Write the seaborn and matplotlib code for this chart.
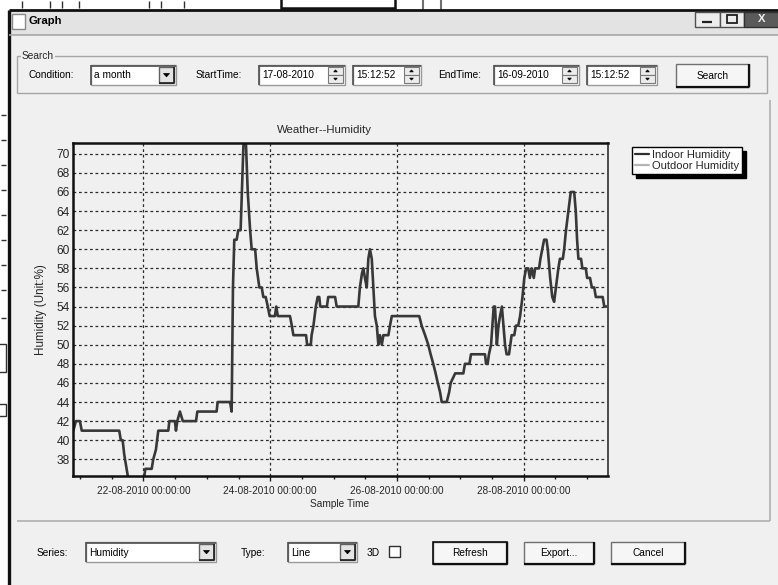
import numpy as np
import pandas as pd
import matplotlib
matplotlib.use("Agg")
import matplotlib.pyplot as plt
import matplotlib.dates as mdates
from matplotlib.patches import Rectangle, Polygon
from matplotlib.lines import Line2D
from matplotlib import font_manager
import seaborn as sns

# ---------------- data ----------------
start_time = "2010-08-20 00:00:00"
hours_from_start = [
    21.4, 22.4, 23.9, 24.6, 38.8, 39.4, 40.1, 40.7, 42.2, 48.2,
    48.7, 51.1, 51.7, 52.7, 53.6, 57.4, 57.8, 59.9, 60.3, 60.8,
    61.8, 62.9, 67.9, 68.4, 75.7, 76.1, 80.8, 81.4, 81.9, 82.4,
    83.3, 83.9, 84.8, 85.4, 86.0, 86.7, 87.5, 88.4, 89.0, 90.3,
    90.9, 91.9, 92.8, 93.4, 94.3, 95.1, 95.8, 97.8, 98.3, 98.9,
    103.5, 104.2, 104.8, 109.6, 110.0, 111.4, 111.7, 112.4, 113.3, 114.0,
    114.6, 115.0, 117.5, 118.0, 120.6, 121.2, 129.4, 130.0, 130.8, 131.3,
    131.9, 132.6, 133.2, 133.8, 134.5, 135.1, 135.7, 136.4, 137.0, 137.6,
    138.3, 138.9, 140.8, 141.4, 142.1, 152.5, 153.4, 154.7, 155.9, 156.8,
    157.8, 158.7, 159.5, 160.4, 161.0, 162.9, 163.8, 164.4, 166.1, 169.2,
    169.8, 171.5, 172.1, 177.4, 177.8, 178.4, 178.9, 179.7, 180.2, 180.7,
    181.2, 181.9, 182.5, 183.1, 183.8, 184.4, 185.0, 185.6, 186.5, 187.0,
    187.5, 188.5, 189.1, 190.0, 190.7, 191.6, 192.3, 193.0, 193.8, 194.4,
    195.1, 195.9, 196.4, 197.9, 198.4, 199.1, 199.8, 200.7, 201.2, 202.1,
    202.9, 203.6, 204.3, 205.2, 205.8, 206.9, 207.4, 208.1, 209.0, 209.9,
    211.2, 211.8, 212.3, 212.8, 213.8, 214.3, 215.6, 216.1, 217.2, 217.9,
    218.8, 219.4, 222.0, 222.6, 223.9,
]
indoor_humidity = [
    41, 42, 42, 41, 41, 40, 40, 38.5, 36, 36,
    37, 37, 38, 39, 41, 41, 42, 42, 41, 42,
    43, 42, 42, 43, 43, 44, 44, 43, 56, 61,
    61, 62, 62, 67, 72, 72, 66, 62, 60, 60,
    58, 56, 56, 55, 55, 54, 53, 53, 54, 53,
    53, 52, 51, 51, 50, 50, 51, 52, 54, 55,
    55, 54, 54, 55, 55, 54, 54, 56, 57.5, 58,
    57, 56, 59, 60, 59, 56, 53, 52, 50, 51,
    50, 51, 51, 52, 53, 53, 52, 51, 50, 49,
    48, 47, 46, 45, 44, 44, 45, 46, 47, 47,
    48, 48, 49, 49, 48, 48, 49, 50, 52, 54,
    54, 50, 52, 53, 54, 52, 50, 49, 49, 50,
    51, 51, 52, 52, 53, 55, 57, 58, 58, 57,
    58, 57, 58, 58, 59, 60, 61, 61, 60, 57,
    55, 54.5, 56, 58, 59, 59, 60, 62, 64, 66,
    66, 64, 61, 59, 59, 58, 58, 57, 57, 56,
    56, 55, 55, 54, 54,
]
series_names = ["Indoor Humidity", "Outdoor Humidity"]
y_ticks = list(range(38, 71, 2))
x_label_days = [22, 24, 26, 28]
chart_title = "Weather--Humidity"
x_title = "Sample Time"
y_title = "Humidity (Unit:%)"

df = pd.DataFrame({
    "time": pd.Timestamp(start_time) + pd.to_timedelta(hours_from_start, unit="h"),
    "humidity": indoor_humidity,
})

# ---------------- style ----------------
sns.set_style("white")
avail = {f.name for f in font_manager.fontManager.ttflist}
NARROW = "Liberation Sans Narrow" if "Liberation Sans Narrow" in avail else "Liberation Sans"
NSCALE = 1.0 if NARROW == "Liberation Sans Narrow" else 0.85
ARIAL = "Liberation Sans"
plt.rcParams["font.family"] = [ARIAL, "DejaVu Sans"]

W, H = 778, 585
BODY = "#f0f0f0"
fig = plt.figure(figsize=(W / 100, H / 100), dpi=100, facecolor=BODY)

# background "window chrome" axes in pixel coordinates
bg = fig.add_axes([0, 0, 1, 1], zorder=0)
bg.set_xlim(0, W)
bg.set_ylim(H, 0)
bg.axis("off")


def rect(x0, y0, x1, y1, fc="none", ec="none", lw=1.0, z=1):
    bg.add_patch(Rectangle((x0, y0), x1 - x0, y1 - y0, facecolor=fc,
                           edgecolor=ec, linewidth=lw, zorder=z))


def hline(x0, x1, y, c, lw=1.0, z=2):
    bg.plot([x0, x1], [y, y], color=c, lw=lw, zorder=z, solid_capstyle="butt")


def vline(x, y0, y1, c, lw=1.0, z=2):
    bg.plot([x, x], [y0, y1], color=c, lw=lw, zorder=z, solid_capstyle="butt")


def txt(x, y, s, size=8.6, ha="left", weight="normal", family=None, color="black", z=5):
    fam = family or NARROW
    sz = size * (NSCALE if fam == NARROW else 1.0)
    bg.text(x, y, s, fontsize=sz, ha=ha, va="center", family=fam,
            fontweight=weight, color=color, zorder=z)


def tri(cx, cy, up=False, s=3.0, c="black"):
    if up:
        pts = [(cx - s, cy + s * 0.5), (cx + s, cy + s * 0.5), (cx, cy - s * 0.6)]
    else:
        pts = [(cx - s, cy - s * 0.5), (cx + s, cy - s * 0.5), (cx, cy + s * 0.6)]
    bg.add_patch(Polygon(pts, closed=True, facecolor=c, edgecolor=c, lw=0.5, zorder=6))


def sunken(x0, y0, x1, y1):
    rect(x0, y0, x1, y1, fc="white", ec="#9a9a9a", lw=1.0, z=2)
    hline(x0, x1, y0 + 0.5, "#505050", 1.2, z=3)
    vline(x0 + 0.5, y0, y1, "#505050", 1.2, z=3)


def combo(x0, y0, x1, y1, label):
    sunken(x0, y0, x1, y1)
    rect(x1 - 17, y0 + 2, x1 - 2, y1 - 2, fc="#e4e4e4", ec="#606060", lw=1.0, z=4)
    hline(x1 - 17, x1 - 2, y1 - 2, "#202020", 1.2, z=5)
    vline(x1 - 2, y0 + 2, y1 - 2, "#202020", 1.2, z=5)
    tri(x1 - 9.5, (y0 + y1) / 2, s=3.0)
    txt(x0 + 3, (y0 + y1) / 2 + 0.5, label)


def spin_edit(x0, y0, x1, y1, label):
    sunken(x0, y0, x1, y1)
    sx0, sx1 = x1 - 17, x1 - 2
    my = (y0 + y1) / 2
    rect(sx0, y0 + 2, sx1, my, fc="#ececec", ec="#7a7a7a", lw=0.8, z=4)
    rect(sx0, my, sx1, y1 - 2, fc="#ececec", ec="#7a7a7a", lw=0.8, z=4)
    tri((sx0 + sx1) / 2, (y0 + 2 + my) / 2, up=True, s=1.8)
    tri((sx0 + sx1) / 2, (my + y1 - 2) / 2, up=False, s=1.8)
    txt(x0 + 3, my + 0.5, label)


def button(x0, y0, x1, y1, label, default=False):
    rect(x0, y0, x1, y1, fc="#f6f6f6", ec="#707070", lw=1.0, z=2)
    hline(x0, x1, y1, "#101010", 1.6, z=3)
    vline(x1, y0, y1, "#101010", 1.6, z=3)
    if default:
        rect(x0, y0, x1, y1, fc="none", ec="#101010", lw=1.2, z=3)
    txt((x0 + x1) / 2, (y0 + y1) / 2 + 0.5, label, ha="center")


# background window remnants (top and left strips)
rect(0, 0, W, 10, fc="white", z=1)
rect(0, 0, 8.5, H, fc="white", z=1)
for xx in [22, 50, 62, 79, 149, 161, 184]:
    vline(xx, 1, 8, "#303030", 1.0)
rect(281, -2, 395, 8, fc="white", ec="#101010", lw=1.8, z=2)
vline(423, 0, 10, "#707070", 1.5)
vline(441, 0, 10, "#707070", 1.5)
for yy in [115, 140, 165, 190, 215, 240, 265, 290, 318]:
    hline(1, 6, yy, "#303030", 1.0)
rect(-2, 344, 6, 372, fc="white", ec="#303030", lw=1.0, z=2)
rect(-2, 404, 6, 416, fc="white", ec="#303030", lw=1.0, z=2)

# dialog frame and title bar
rect(9, 10, W + 2, 35, fc="#e3e3e3", z=1)
hline(9, W, 10, "#101010", 2.0)
vline(9, 10, H, "#101010", 2.4)
hline(9, W, 35, "#a8a8a8", 1.2)
rect(12, 14, 25, 29, fc="white", ec="#8a8a8a", lw=1.0, z=2)
txt(29, 21.5, "Graph", size=9.6, weight="bold")
rect(695, 12, 720, 27, fc="#ececec", ec="#505050", lw=1.0, z=2)
hline(702, 712, 22, "#202020", 1.6, z=3)
rect(720, 12, 744, 27, fc="#ececec", ec="#505050", lw=1.0, z=2)
rect(727, 15, 737, 23, fc="none", ec="#202020", lw=1.3, z=3)
rect(744, 12, W + 2, 27, fc="#5a5a5a", ec="#303030", lw=1.0, z=2)
txt(762, 19.5, "X", size=9.5, weight="bold", ha="center", color="#f0f0f0", family=ARIAL)

# search group
rect(17, 56, 767, 93, fc="none", ec="#a6a6a6", lw=1.0, z=2)
bg.text(22, 56, "Search", fontsize=8.6 * NSCALE, family=NARROW, va="center", ha="left",
        zorder=5, bbox=dict(boxstyle="square,pad=0.1", fc=BODY, ec="none"))
txt(29, 75.5, "Condition:")
combo(91, 65, 176, 85, "a month")
txt(196, 75.5, "StartTime:")
spin_edit(259, 65, 345, 85, "17-08-2010")
spin_edit(353, 65, 421, 85, "15:12:52")
txt(438, 75.5, "EndTime:")
spin_edit(494, 65, 579, 85, "16-09-2010")
spin_edit(587, 65, 657, 85, "15:12:52")
button(676, 64, 749, 87, "Search")

# chart panel frame (only right and bottom edges are visible)
vline(770, 100, 521, "#b0b0b0", 1.2)
hline(17, 770, 521, "#b0b0b0", 1.2)

# bottom controls
txt(37, 552.5, "Series:")
combo(86, 542, 216, 562, "Humidity")
txt(241, 552.5, "Type:")
combo(288, 542, 357, 562, "Line")
txt(367, 552.5, "3D")
rect(389, 546, 400, 557, fc="white", ec="#303030", lw=1.0, z=2)
button(433, 542, 507, 564, "Refresh", default=True)
button(524, 542, 594, 564, "Export...")
button(611, 542, 685, 564, "Cancel")

# ---------------- chart ----------------
L, R, T, B = 73.3, 607.7, 143.3, 476.0
ax = fig.add_axes([L / W, (H - B) / H, (R - L) / W, (B - T) / H], zorder=2)
ax.set_facecolor(BODY)

sns.lineplot(data=df, x="time", y="humidity", ax=ax, color="#383838", linewidth=1.9,
             estimator=None, sort=False, legend=False)

ax.set_xlim(df["time"].min(), df["time"].max())
ax.set_ylim(36.25, 71.1)
ax.set_yticks(y_ticks)
ax.set_yticklabels([str(v) for v in y_ticks], fontsize=8.6, family=ARIAL)

ax.xaxis.set_major_locator(mdates.DayLocator(bymonthday=x_label_days))
ax.xaxis.set_minor_locator(mdates.HourLocator(byhour=[0, 12]))
ax.xaxis.set_major_formatter(mdates.DateFormatter("%d-%m-%Y %H:%M:%S"))
for lab in ax.get_xticklabels():
    lab.set_family(NARROW)
    lab.set_fontsize(8.5 * NSCALE)

ax.tick_params(axis="x", which="major", direction="out", length=3.5, width=1.0,
               pad=3.5, color="#202020", bottom=True)
ax.tick_params(axis="x", which="minor", direction="out", length=2.5, width=1.0,
               color="#202020", bottom=True)
ax.tick_params(axis="y", which="major", length=0, pad=2.5)

ax.grid(True, which="major", axis="both", color="#2a2a2a", linestyle=(0, (2.2, 2.2)),
        linewidth=0.9)
for side in ["left", "bottom", "top"]:
    ax.spines[side].set_color("#101010")
    ax.spines[side].set_linewidth(1.8)
ax.spines["right"].set_color("#4a4a4a")
ax.spines["right"].set_linewidth(1.4)

ax.set_xlabel(x_title, fontsize=8.6 * NSCALE, family=NARROW)
ax.xaxis.set_label_coords((340 - L) / (R - L), (B - 499) / (B - T))
ax.set_ylabel(y_title, fontsize=8.4, family=ARIAL)
ax.yaxis.set_label_coords((47 - L) / (R - L), 0.5)
ax.text((324 - L) / (R - L), (B - 130) / (B - T), chart_title, transform=ax.transAxes,
        ha="center", va="center", fontsize=8.2, family=ARIAL)

handles = [Line2D([], [], color="#303030", lw=1.6),
           Line2D([], [], color="#b4b4b4", lw=1.6)]
leg = ax.legend(handles, series_names, loc="upper left",
                bbox_to_anchor=(632 / W, 1 - 147 / H), bbox_transform=fig.transFigure,
                frameon=True, fancybox=False, edgecolor="black", facecolor="white",
                framealpha=1, borderpad=0.25, labelspacing=0.12, handlelength=1.3,
                handletextpad=0.25, borderaxespad=0,
                prop={"family": ARIAL, "size": 8.0},
                shadow={"color": "black", "alpha": 1, "ox": 3, "oy": -3})
leg.get_frame().set_linewidth(1.0)

fig.savefig("out.png", dpi=100, facecolor=BODY)
